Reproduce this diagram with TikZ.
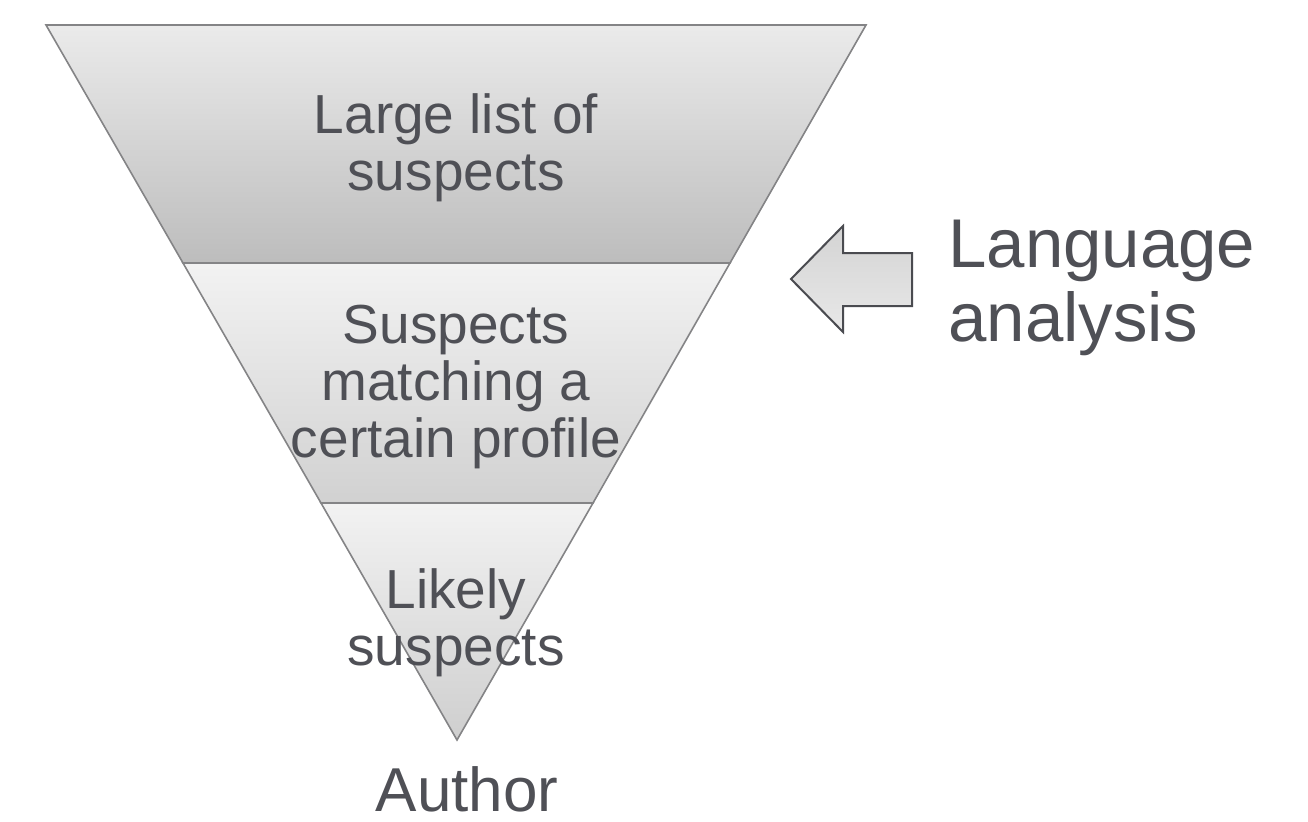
\documentclass[tikz,border=0pt]{standalone}
\usepackage{fontspec}
\setmainfont{Liberation Sans}
\usetikzlibrary{positioning}
\definecolor{inktext}{HTML}{4F5056}
\definecolor{bandline}{HTML}{848486}
\definecolor{arrowline}{HTML}{4A4B50}

\begin{document}
\begin{tikzpicture}[x=0.5pt,y=-0.5pt,
    band/.style={
% The border:
line width=0.8pt, draw=bandline, line join=miter,
},
    bandtext/.style={
% The text:
text=inktext, align=center, inner sep=0pt,
font=\fontsize{27.5pt}{28.5pt}\selectfont,
},
    sidetext/.style={
% The text:
text=inktext, align=left, inner sep=0pt,
font=\fontsize{34.5pt}{37pt}\selectfont,
},
    pointer/.style={
% The border:
line width=1pt, draw=arrowline, line join=miter,
% The filling:
top color=black!17, bottom color=black!9,
},
]
  \useasboundingbox (0,0) rectangle (1308,821);

  % funnel bands
  \shade[band, top color=black!8, bottom color=black!26]
    (46,25) -- (866,25) -- (730,263) -- (183,263) -- cycle;
  \shade[band, top color=black!5, bottom color=black!18]
    (183,263) -- (730,263) -- (593,503) -- (321,503) -- cycle;
  \shade[band, top color=black!5, bottom color=black!19]
    (321,503) -- (593,503) -- (457,740) -- cycle;

  % texts, placed at the baseline of their last line
  \node[bandtext, anchor=base] (large)  at (456,190) {Large list of\\suspects};
  \node[bandtext, anchor=base] (match)  at (456,457) {Suspects\\matching a\\certain profile};
  \node[bandtext, anchor=base] (likely) at (456,665) {Likely\\suspects};
  \node[bandtext, anchor=base, font=\fontsize{31pt}{32pt}\selectfont]
    (author) at (467,811) {Author};

  % block arrow
  \shade[pointer] (791,279) -- (843,226) -- (843,253) -- (912,253)
    -- (912,306) -- (843,306) -- (843,332) -- cycle;
  \node[sidetext, anchor=base west] (lang) at (948,341) {Language\\analysis};

\end{tikzpicture}
\end{document}
